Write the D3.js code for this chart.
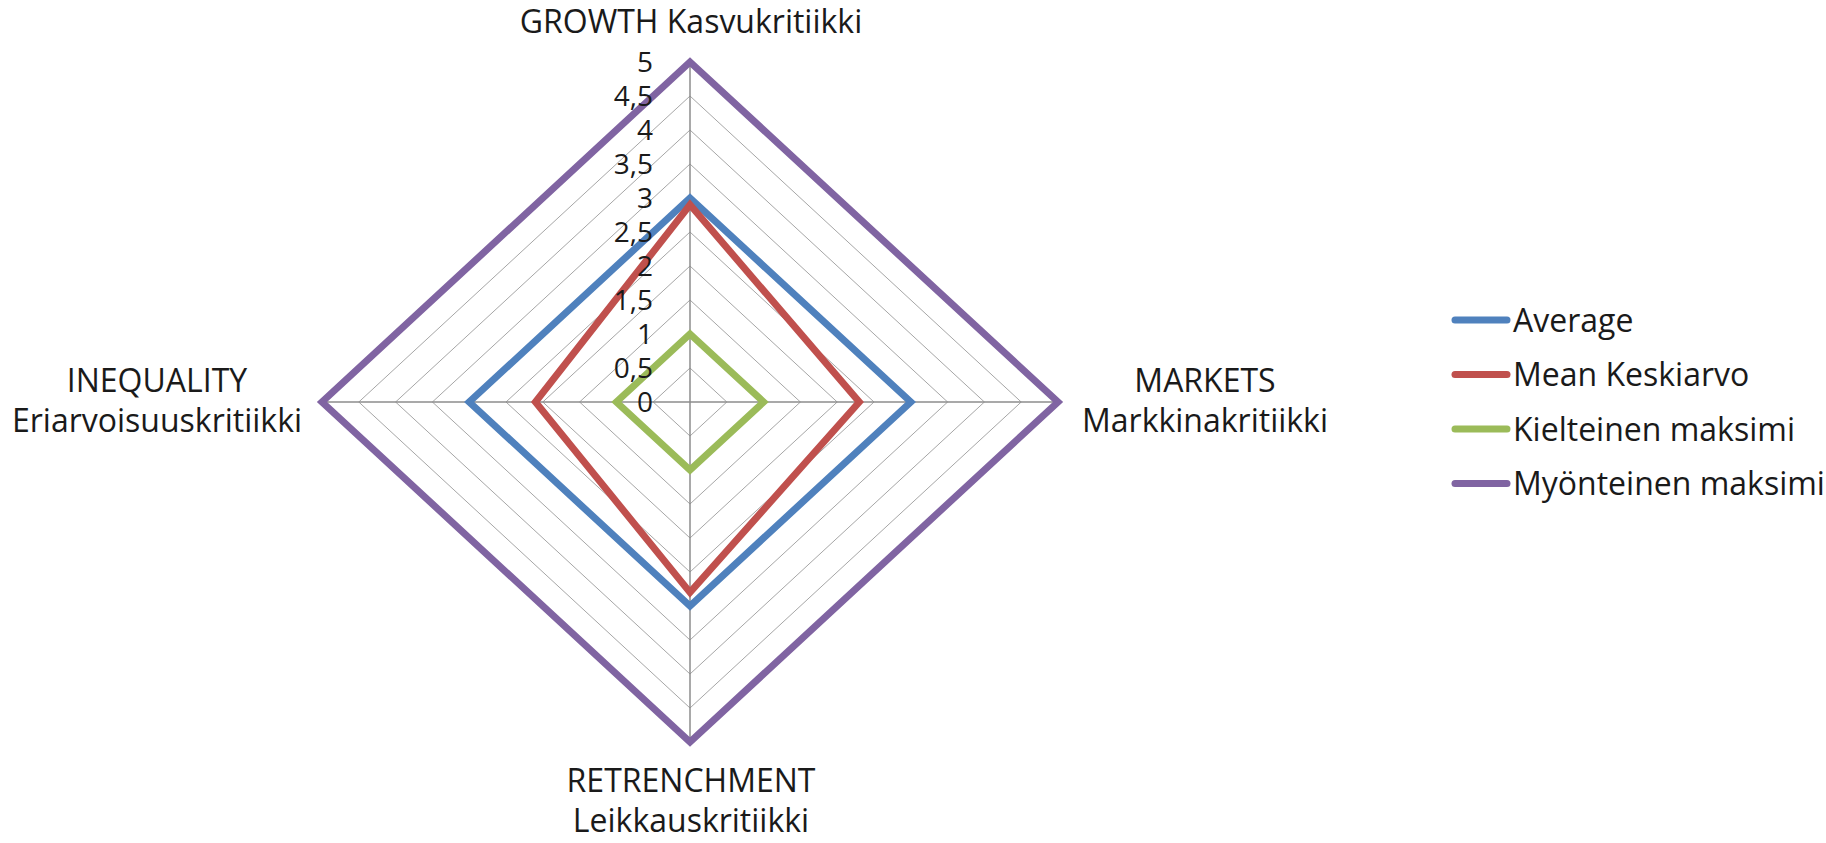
<!DOCTYPE html>
<html>
<head>
<meta charset="utf-8">
<script src="https://cdn.jsdelivr.net/npm/d3@7"></script>
<style>
  body { margin: 0; background: #fff; }
  text { font-family: "Open Sans", Lato, sans-serif; fill: #1a1a1a; }
</style>
</head>
<body>
<svg id="chart" width="1826" height="843"></svg>
<script>
// axes, clockwise from the top
const axes = [
  ['GROWTH Kasvukritiikki'],
  ['MARKETS', 'Markkinakritiikki'],
  ['RETRENCHMENT', 'Leikkauskritiikki'],
  ['INEQUALITY', 'Eriarvoisuuskritiikki']
];
const seriesNames = ['Average', 'Mean Keskiarvo', 'Kielteinen maksimi', 'Myönteinen maksimi'];
const average = [3, 3, 3, 3];
const meanKeskiarvo = [2.9, 2.3, 2.8, 2.1];
const kielteinen = [1, 1, 1, 1];
const myonteinen = [5, 5, 5, 5];
const tickValues = [0, 0.5, 1, 1.5, 2, 2.5, 3, 3.5, 4, 4.5, 5];
const colors = ['#4F81BD', '#C0504D', '#9BBB59', '#8064A2'];

const svg = d3.select('#chart');
const cx = 690, cy = 402;

//The plot area is a bit wider than it is tall, so each direction gets its own scale.
const rX = d3.scaleLinear().domain([0, 5]).range([0, 368]);
const rY = d3.scaleLinear().domain([0, 5]).range([0, 340]);

function pt(v, i) {
  let a = i * Math.PI / 2;
  return [cx + rX(v) * Math.sin(a), cy - rY(v) * Math.cos(a)];
}

//Grid rings.
const grid = svg.append('g');
grid.selectAll('path')
  .data(tickValues.filter(d => d > 0))
  .join('path')
  .attr('d', d => d3.line()(axes.map((a, i) => pt(d, i))) + 'Z')
  .attr('fill', 'none')
  .attr('stroke', '#a6a6a6')
  .attr('stroke-width', 1);

//Spokes.
grid.selectAll('line')
  .data(axes)
  .join('line')
  .attr('x1', cx).attr('y1', cy)
  .attr('x2', (d, i) => pt(5, i)[0])
  .attr('y2', (d, i) => pt(5, i)[1])
  .attr('stroke', '#8c8c8c')
  .attr('stroke-width', 1.5);

//Series polygons.
const allSeries = [average, meanKeskiarvo, kielteinen, myonteinen];
svg.append('g').selectAll('path')
  .data(allSeries)
  .join('path')
  .attr('d', vals => d3.line()(vals.map((v, i) => pt(v, i))) + 'Z')
  .attr('fill', 'none')
  .attr('stroke', (d, i) => colors[i])
  .attr('stroke-width', 7)
  .attr('stroke-linejoin', 'miter');

//Value labels along the vertical axis.
svg.append('g').selectAll('text')
  .data(tickValues)
  .join('text')
  .attr('x', 653)
  .attr('y', d => cy - rY(d))
  .attr('dy', '0.36em')
  .attr('text-anchor', 'end')
  .style('font-size', '28px')
  .text(d => String(d).replace('.', ','));

//Category labels.
const labelPos = [[691, 33], [1205, 392], [691, 792], [157, 392]];
const cats = svg.append('g').selectAll('text')
  .data(axes)
  .join('text')
  .attr('x', (d, i) => labelPos[i][0])
  .attr('y', (d, i) => labelPos[i][1])
  .attr('text-anchor', 'middle')
  .style('font-size', '32px');
cats.each(function (d, i) {
  d.forEach((line, k) => {
    d3.select(this).append('tspan')
      .attr('x', labelPos[i][0])
      .attr('dy', k == 0 ? 0 : 40)
      .text(line);
  });
});

//Legend.
const legend = svg.append('g').selectAll('g')
  .data(seriesNames)
  .join('g')
  .attr('transform', (d, i) => 'translate(1452,' + (320 + i * 54.5) + ')');
legend.append('line')
  .attr('x1', 3).attr('x2', 55)
  .attr('stroke', (d, i) => colors[i])
  .attr('stroke-width', 7)
  .attr('stroke-linecap', 'round');
legend.append('text')
  .attr('x', 61)
  .attr('dy', '0.36em')
  .style('font-size', '32px')
  .text(d => d);
</script>
</body>
</html>
